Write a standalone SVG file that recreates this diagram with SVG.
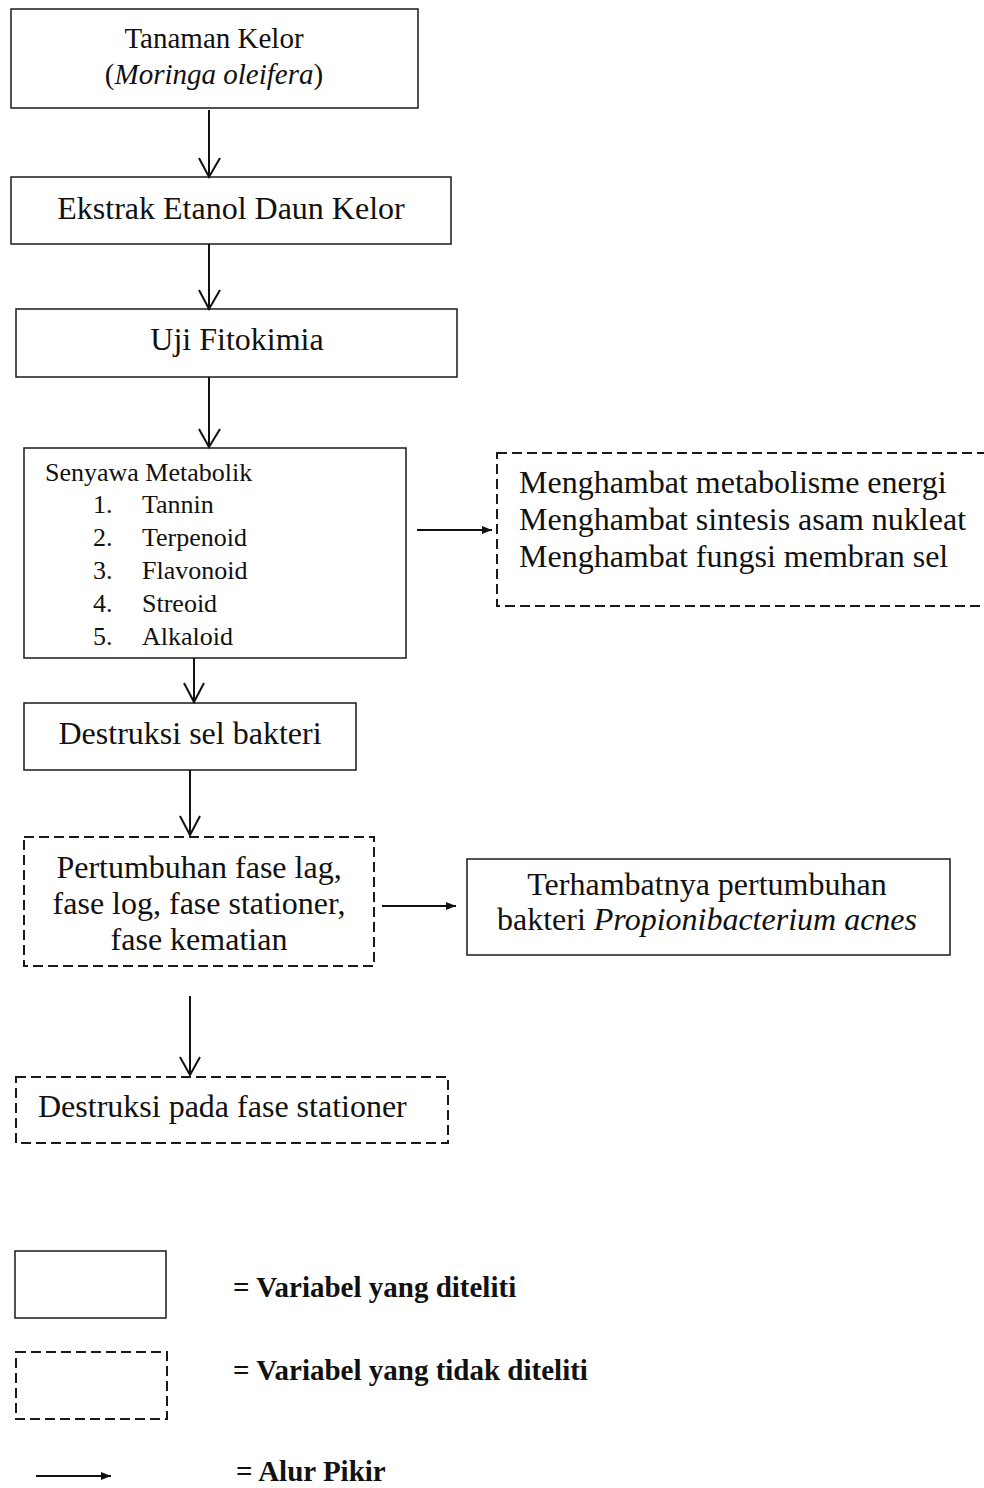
<svg xmlns="http://www.w3.org/2000/svg" width="984" height="1488" viewBox="0 0 984 1488">
  <defs>
    <style>
      .box { fill: #fff; stroke: #1a1a1a; stroke-width: 1.5; }
      .dash { fill: #fff; stroke: #1a1a1a; stroke-width: 2; stroke-dasharray: 10 5; }
      .txt { font-family: "Liberation Serif", "Times New Roman", serif; font-size: 32px; fill: #111; }
      .sm { font-size: 26px; }
      .md { font-size: 29px; }
      .leg { font-family: "Liberation Serif", "Times New Roman", serif; font-size: 29px; font-weight: bold; fill: #111; }
      .line { stroke: #111; stroke-width: 2; fill: none; }
    </style>
    <marker id="head" viewBox="0 0 10 10" refX="10" refY="5" markerWidth="10" markerHeight="10" markerUnits="userSpaceOnUse" orient="auto">
      <path d="M0,1 L10,5 L0,9 Z" fill="#111"/>
    </marker>
  </defs>
  <rect width="984" height="1488" fill="#fff"/>

  <!-- flow boxes -->
  <g id="tanaman-kelor">
    <rect class="box" x="11" y="9" width="407" height="99"/>
    <text class="txt md" x="214" y="48" text-anchor="middle">Tanaman Kelor</text>
    <text class="txt md" x="214" y="84" text-anchor="middle">(<tspan font-style="italic">Moringa oleifera</tspan>)</text>
  </g>

  <g id="ekstrak">
    <rect class="box" x="11" y="177" width="440" height="67"/>
    <text class="txt" x="231" y="219" text-anchor="middle">Ekstrak Etanol Daun Kelor</text>
  </g>

  <g id="uji-fitokimia">
    <rect class="box" x="16" y="309" width="441" height="68"/>
    <text class="txt" x="237" y="350" text-anchor="middle">Uji Fitokimia</text>
  </g>

  <g id="senyawa-metabolik">
    <rect class="box" x="24" y="448" width="382" height="210"/>
    <text class="txt sm" x="45" y="481">Senyawa Metabolik</text>
    <text class="txt sm" x="93" y="513">1.</text><text class="txt sm" x="142" y="513">Tannin</text>
    <text class="txt sm" x="93" y="546">2.</text><text class="txt sm" x="142" y="546">Terpenoid</text>
    <text class="txt sm" x="93" y="579">3.</text><text class="txt sm" x="142" y="579">Flavonoid</text>
    <text class="txt sm" x="93" y="612">4.</text><text class="txt sm" x="142" y="612">Streoid</text>
    <text class="txt sm" x="93" y="645">5.</text><text class="txt sm" x="142" y="645">Alkaloid</text>
  </g>

  <g id="mekanisme">
    <rect class="dash" x="497" y="453" width="510" height="153"/>
    <text class="txt" x="519" y="493">Menghambat metabolisme energi</text>
    <text class="txt" x="519" y="530">Menghambat sintesis asam nukleat</text>
    <text class="txt" x="519" y="567">Menghambat fungsi membran sel</text>
  </g>

  <g id="destruksi-sel">
    <rect class="box" x="24" y="703" width="332" height="67"/>
    <text class="txt" x="190" y="744" text-anchor="middle">Destruksi sel bakteri</text>
  </g>

  <g id="pertumbuhan">
    <rect class="dash" x="24" y="837" width="350" height="129"/>
    <text class="txt" x="199" y="878" text-anchor="middle">Pertumbuhan fase lag,</text>
    <text class="txt" x="199" y="914" text-anchor="middle">fase log, fase stationer,</text>
    <text class="txt" x="199" y="950" text-anchor="middle">fase kematian</text>
  </g>

  <g id="terhambat">
    <rect class="box" x="467" y="859" width="483" height="96"/>
    <text class="txt" x="707" y="895" text-anchor="middle">Terhambatnya pertumbuhan</text>
    <text class="txt" x="707" y="930" text-anchor="middle">bakteri <tspan font-style="italic">Propionibacterium acnes</tspan></text>
  </g>

  <g id="destruksi-stationer">
    <rect class="dash" x="16" y="1077" width="432" height="66"/>
    <text class="txt" x="38" y="1117">Destruksi pada fase stationer</text>
  </g>

  <!-- connectors -->
  <g id="connectors">
    <path class="line" d="M209,110 V177 M199,158 L209,177 L220,158"/>
    <path class="line" d="M209,244 V309 M199,290 L209,309 L220,290"/>
    <path class="line" d="M209,377 V447 M199,429 L209,447 L220,429"/>
    <path class="line" d="M194,658 V702 M184,683 L194,702 L204,683"/>
    <path class="line" d="M190,770 V835 M180,816 L190,835 L200,816"/>
    <path class="line" d="M190,996 V1075 M180,1057 L190,1075 L200,1057"/>
    <line class="line" x1="417" y1="530" x2="492" y2="530" marker-end="url(#head)"/>
    <line class="line" x1="382" y1="906" x2="456" y2="906" marker-end="url(#head)"/>
  </g>

  <!-- legend -->
  <g id="legend">
    <rect class="box" x="15" y="1251" width="151" height="67"/>
    <text class="leg" x="233" y="1297">= Variabel yang diteliti</text>
    <rect class="dash" x="16" y="1352" width="151" height="67"/>
    <text class="leg" x="233" y="1380">= Variabel yang tidak diteliti</text>
    <line class="line" x1="36" y1="1476" x2="111" y2="1476" marker-end="url(#head)"/>
    <text class="leg" x="236" y="1481">= Alur Pikir</text>
  </g>
</svg>
